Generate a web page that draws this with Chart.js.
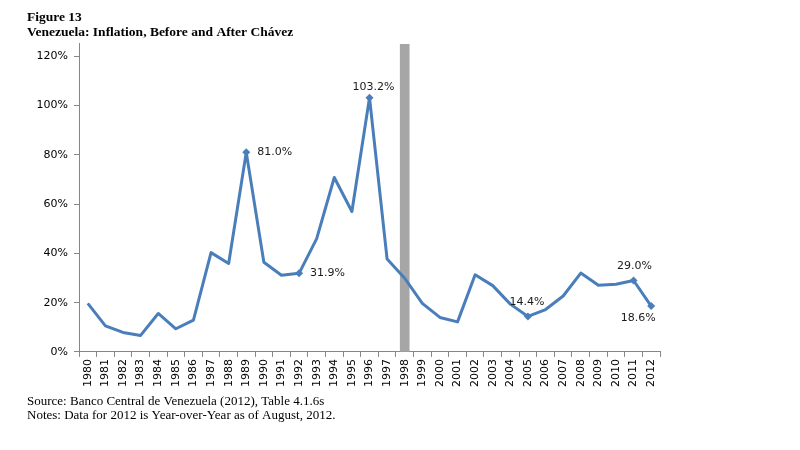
<!DOCTYPE html>
<html>
<head>
<meta charset="utf-8">
<script src="https://cdn.jsdelivr.net/npm/chart.js@4"></script>
<style>
  html, body { margin: 0; padding: 0; background: #fff; }
  #wrap { width: 800px; height: 450px; }
</style>
</head>
<body>
<div id="wrap"><canvas id="inflationChart" width="800" height="450"></canvas></div>
<script>
// years on the x axis
const years = ['1980','1981','1982','1983','1984','1985','1986','1987','1988','1989','1990',
  '1991','1992','1993','1994','1995','1996','1997','1998','1999','2000','2001','2002',
  '2003','2004','2005','2006','2007','2008','2009','2010','2011','2012'];

// annual inflation, percent
const inflation = [19.7, 10.6, 7.9, 6.7, 15.6, 9.4, 12.9, 40.3, 35.9, 81.0, 36.4,
  31.1, 31.9, 46.0, 70.8, 57.0, 103.2, 37.7, 29.9, 19.7, 14.0, 12.2, 31.3,
  26.9, 19.4, 14.4, 17.2, 22.7, 32.0, 27.1, 27.5, 29.0, 18.6];

// grey marker bar for the year Chávez took office
const markerYear = '1998';
const markerValue = 125;

// points that carry a value label
const labelledYears = ['1989', '1992', '1996', '2005', '2011', '2012'];

const titleLines = ['Figure 13', 'Venezuela: Inflation, Before and After Chávez'];
const footLines = ['Source: Banco Central de Venezuela (2012), Table 4.1.6s',
  'Notes: Data for 2012 is Year-over-Year as of August, 2012.'];

const blue = '#4a7ebb';
const axisGrey = '#868686';

const markerData = years.map(y => y === markerYear ? markerValue : null);
const pointRadius = years.map(y => labelledYears.includes(y) ? 4 : 0);

// label offsets relative to the point (dx, dy, align)
const labelPlacement = {
  '1989': [11, 0, 'left'],
  '1992': [11, 0, 'left'],
  '1996': [4, -11, 'center'],
  '2005': [-1, -14, 'center'],
  '2011': [1, -14, 'center'],
  '2012': [-13, 12, 'center']
};

const valueLabels = {
  id: 'valueLabels',
  afterDatasetsDraw(chart) {
    const meta = chart.getDatasetMeta(1);
    const ctx = chart.ctx;
    ctx.save();
    ctx.font = '11px "DejaVu Sans"';
    ctx.fillStyle = '#1a1a1a';
    ctx.textBaseline = 'middle';
    labelledYears.forEach(y => {
      const i = years.indexOf(y);
      const pt = meta.data[i];
      const p = labelPlacement[y];
      ctx.textAlign = p[2];
      ctx.fillText(inflation[i].toFixed(1) + '%', pt.x + p[0], pt.y + p[1]);
    });
    ctx.restore();
  }
};

new Chart(document.getElementById('inflationChart').getContext('2d'), {
  type: 'bar',
  data: {
    labels: years,
    datasets: [{
      type: 'bar',
      data: markerData,
      backgroundColor: '#a6a6a6',
      barThickness: 9,
      order: 2
    }, {
      type: 'line',
      data: inflation,
      borderColor: blue,
      backgroundColor: blue,
      borderWidth: 3,
      borderJoinStyle: 'round',
      tension: 0,
      pointStyle: 'rectRot',
      pointRadius: pointRadius,
      pointHoverRadius: pointRadius,
      pointBorderWidth: 0,
      order: 1
    }]
  },
  options: {
    responsive: false,
    animation: false,
    layout: { padding: { left: 27, right: 140, top: 0, bottom: 0 } },
    plugins: {
      legend: { display: false },
      tooltip: { enabled: false },
      title: {
        display: true,
        text: titleLines,
        align: 'start',
        color: '#000',
        font: { family: '"Liberation Serif"', size: 13.5, weight: 'bold', lineHeight: 1.11 },
        padding: { top: 10, bottom: 4 }
      },
      subtitle: {
        display: true,
        position: 'bottom',
        text: footLines,
        align: 'start',
        color: '#000',
        font: { family: '"Liberation Serif"', size: 13, lineHeight: 1.08 },
        padding: { top: 2, bottom: 27 }
      }
    },
    scales: {
      x: {
        offset: true,
        grid: { offset: true, drawOnChartArea: false, drawTicks: true, tickLength: 5, color: axisGrey },
        border: { display: true, color: axisGrey },
        ticks: {
          autoSkip: false, maxRotation: 90, minRotation: 90, padding: 2,
          color: '#000', font: { family: '"DejaVu Sans"', size: 11 }
        },
        afterFit(scale) { scale.height = 41; }
      },
      y: {
        min: 0,
        max: 125,
        grid: { drawOnChartArea: false, drawTicks: true, tickLength: 5, color: axisGrey },
        border: { display: true, color: axisGrey },
        ticks: {
          stepSize: 20, includeBounds: false, padding: 6,
          color: '#000', font: { family: '"DejaVu Sans"', size: 11 },
          callback: v => v + '%'
        },
        afterFit(scale) { scale.width = 52; }
      }
    }
  },
  plugins: [valueLabels]
});
</script>
</body>
</html>
